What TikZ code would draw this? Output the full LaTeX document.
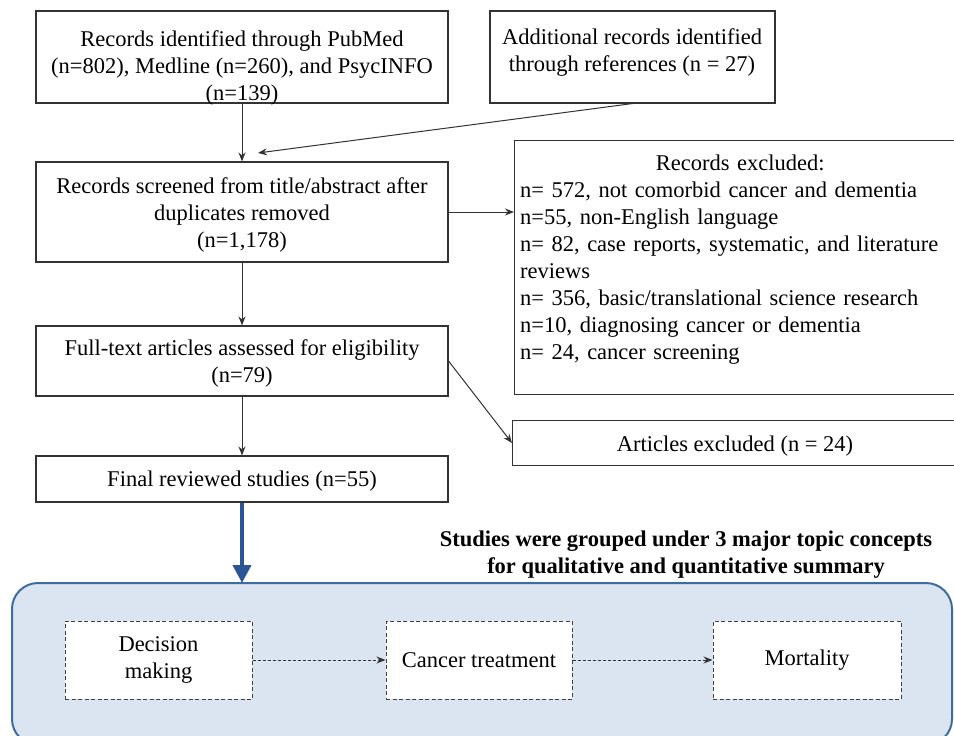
\documentclass[tikz,border=0pt]{standalone}
\usepackage{fontspec}
\setmainfont{Liberation Serif}
\usetikzlibrary{arrows.meta,calc}
\definecolor{panelfill}{HTML}{DBE4F1}
\definecolor{paneldraw}{HTML}{3E6C9C}
\definecolor{bluearrow}{HTML}{2C5597}
\begin{document}
\begin{tikzpicture}[x=1pt,y=-1pt,
  box/.style={draw=black!80,line width=1.1pt,fill=white,inner sep=0pt},
  txt/.style={inner sep=0pt,align=center,font=\fontsize{22.5}{27}\selectfont},
  btxt/.style={inner sep=0pt,align=center,font=\fontsize{22.5}{27}\selectfont\bfseries},
  dbox/.style={draw=black!75,line width=1pt,dash pattern=on 4pt off 2.5pt,fill=white,inner sep=0pt,align=center,font=\fontsize{22.5}{27}\selectfont},
  flow/.style={draw=black!80,line width=1pt,-{Stealth[length=9pt,width=7pt]}},
  dflow/.style={draw=black!80,line width=1pt,dash pattern=on 3pt off 2pt,-{Stealth[length=9pt,width=7pt]}},
  bigarrow/.style={draw=bluearrow,line width=4pt,-{Triangle[length=18pt,width=18pt]}}
]
\useasboundingbox (0,0) rectangle (954,736);
\clip (0,0) rectangle (954,736);
\fill[white] (0,0) rectangle (954,736);

% boxes
\node[box,minimum width=412pt,minimum height=92pt] (a) at (242,57) {};
\node[box,minimum width=285pt,minimum height=92pt] (b) at (632.5,57) {};
\node[box,minimum width=412pt,minimum height=100pt] (c) at (242,212) {};
\node[box,minimum width=452pt,minimum height=254pt,anchor=north west] (d) at (514,140) {};
\node[box,minimum width=412pt,minimum height=70pt] (e) at (242,361) {};
\node[box,minimum width=412pt,minimum height=46pt] (f) at (242,479) {};
\node[box,minimum width=452pt,minimum height=45pt,anchor=north west] (g) at (512,420) {};

% texts
\node[txt,anchor=north] (ta) at (242,30.5) {Records identified through PubMed\\(n=802), Medline (n=260), and PsycINFO\\(n=139)};
\node[txt,anchor=north] (tb) at (632,28.5) {Additional records identified\\through references (n = 27)};
\node[txt,anchor=north] (tc) at (242,177.5) {Records screened from title/abstract after\\duplicates removed\\(n=1,178)};
\node[txt,anchor=north west,text width=440pt,align=left] (td) at (520,155) {\makebox[\linewidth]{Records excluded:}\\
n= 572, not comorbid cancer and dementia\\
n=55, non-English language\\
n= 82, case reports, systematic, and literature\\
reviews\\
n= 356, basic/translational science research\\
n=10, diagnosing cancer or dementia\\
n= 24, cancer screening};
\node[txt,anchor=north] (te) at (242,339.5) {Full-text articles assessed for eligibility\\(n=79)};
\node[txt,anchor=north] (tf) at (242,470.5) {Final reviewed studies (n=55)};
\node[txt,anchor=north] (tg) at (735,435.5) {Articles excluded (n = 24)};
\node[btxt,anchor=north] (title) at (686,530.5) {Studies were grouped under 3 major topic concepts\\for qualitative and quantitative summary};

% panel
\draw[fill=panelfill,draw=paneldraw,line width=2pt,rounded corners=26pt] (12,583) rectangle (952,745);
\coordinate (ptop) at (242,583);

\node[dbox,minimum width=187pt,minimum height=78pt] (dm) at (158.5,660) {Decision\\making};
\node[dbox,minimum width=186pt,minimum height=78pt] (ct) at (479,660) {Cancer treatment};
\node[dbox,minimum width=188pt,minimum height=78pt] (mo) at (807,660) {Mortality};

% connectors
\coordinate (bend) at (258,153);
\draw[flow] (a.south) -- (c.north);
\draw[flow] (b.south) -- (bend);
\draw[flow] (c.east) -- (c.east -| d.west);
\draw[flow] (c.south) -- (e.north);
\draw[flow] (e.east) -- (g.west);
\draw[flow] (e.south) -- (f.north);
\draw[bigarrow] (f.south) -- (ptop);
\draw[dflow] (dm.east) -- (ct.west);
\draw[dflow] (ct.east) -- (mo.west);
\end{tikzpicture}
\end{document}
